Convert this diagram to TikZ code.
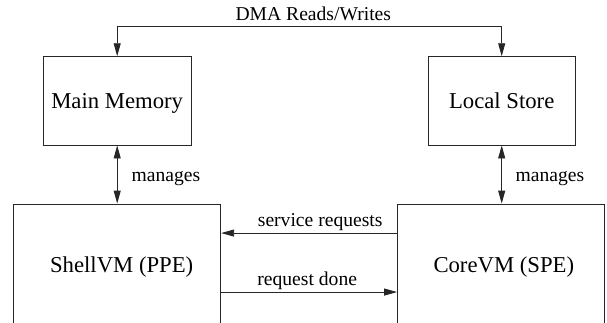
\documentclass[tikz,border=0pt]{standalone}
\usepackage{fontspec}
\setmainfont{Liberation Serif}
\usetikzlibrary{arrows.meta}
\begin{document}
\begin{tikzpicture}[x=1pt,y=-1pt,
  box/.style={draw=black!85, line width=0.9pt, inner sep=0pt, text height=14.9pt, text depth=0pt,
    font=\fontsize{22.7}{27}\selectfont},
  lbl/.style={inner sep=0pt, anchor=base, font=\fontsize{19.6}{23}\selectfont},
  tip/.tip={Triangle[length=13pt,width=7pt]},
  conn/.style={draw=black!85, line width=0.9pt, -tip},
  dconn/.style={draw=black!85, line width=0.9pt, tip-tip}]
\useasboundingbox (0,0) rectangle (607,322);
\clip (0,0) rectangle (607,322);
\node[box, minimum width=147.7pt, minimum height=88.3pt] (mm) at (117.2,100.85) {Main Memory};
\node[box, minimum width=146.7pt, minimum height=88.3pt] (ls) at (501.7,100.85) {Local Store};
\node[box, minimum width=207.4pt, minimum height=123pt] (shell) at (117,265.5) {\hspace*{9.4pt}ShellVM (PPE)};
\node[box, minimum width=206.5pt, minimum height=123pt] (core) at (500.8,265.5) {\hspace*{6pt}CoreVM (SPE)};
\node[lbl] (dma) at (313.3,20) {DMA Reads/Writes};
\node[lbl] (m1) at (166,181) {manages};
\node[lbl] (m2) at (550,181) {manages};
\node[lbl] (sr) at (320.2,226.7) {service requests};
\node[lbl] (rd) at (307.2,285.5) {request done};
\draw[dconn] (mm.north) -- ++(0,-29.4) -| (ls.north);
\draw[dconn] (mm.south) -- (mm.south |- shell.north);
\draw[dconn] (ls.south) -- (ls.south |- core.north);
\draw[conn] ([yshift=-29.5pt]core.north west) -- ([yshift=-29.5pt]shell.north east);
\draw[conn] ([yshift=-88.5pt]shell.north east) -- ([yshift=-88.5pt]core.north west);
\end{tikzpicture}
\end{document}
